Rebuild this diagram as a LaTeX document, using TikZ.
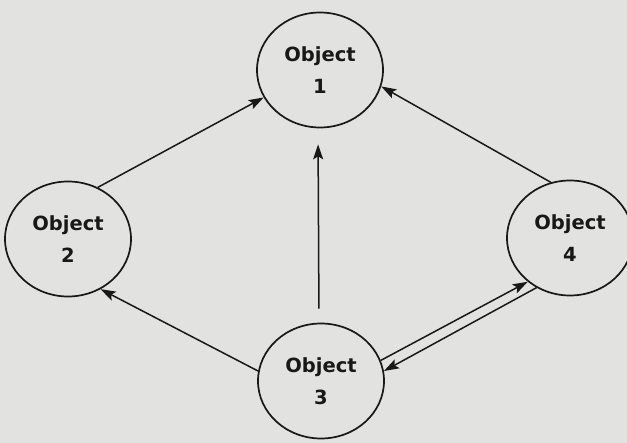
\documentclass[tikz,border=0pt]{standalone}
\usepackage{fontspec}
\setmainfont{DejaVu Sans}
\usetikzlibrary{shapes.geometric,arrows.meta}
\definecolor{paper}{RGB}{226,226,224}
\definecolor{ink}{RGB}{24,24,24}
\tikzset{
  obj/.style={ellipse, draw=ink, line width=1.7pt, minimum width=126pt, minimum height=115pt,
    inner sep=0pt, align=center, text=ink, font=\bfseries\fontsize{19.5}{32}\selectfont},
  link/.style={draw=ink, line width=1.5pt, -{Stealth[length=15pt,width=10pt,inset=3pt]}}
}
\begin{document}
\begin{tikzpicture}[x=1pt,y=-1pt]
\fill[paper] (0,0) rectangle (627,443);
\useasboundingbox (0,0) rectangle (627,443);
\node[obj] (n1) at (320,70) {Object\\1};
\node[obj] (n2) at (68,239) {Object\\2};
\node[obj] (n4) at (570,238) {Object\\4};
\node[obj] (n3) at (321,381) {Object\\3};
\draw[link] (n2.60) -- (n1.206);
\draw[link] (n4.109) -- (n1.345);
\draw[link, shorten <=14pt, shorten >=16pt] ([xshift=-2pt]n3.north) -- ([xshift=-2pt]n1.south);
\draw[link] (n3.171) -- (n2.303);
\draw[link] (n3.19) -- (n4.226);
\draw[link] (n4.236) -- (n3.9);
\end{tikzpicture}
\end{document}
